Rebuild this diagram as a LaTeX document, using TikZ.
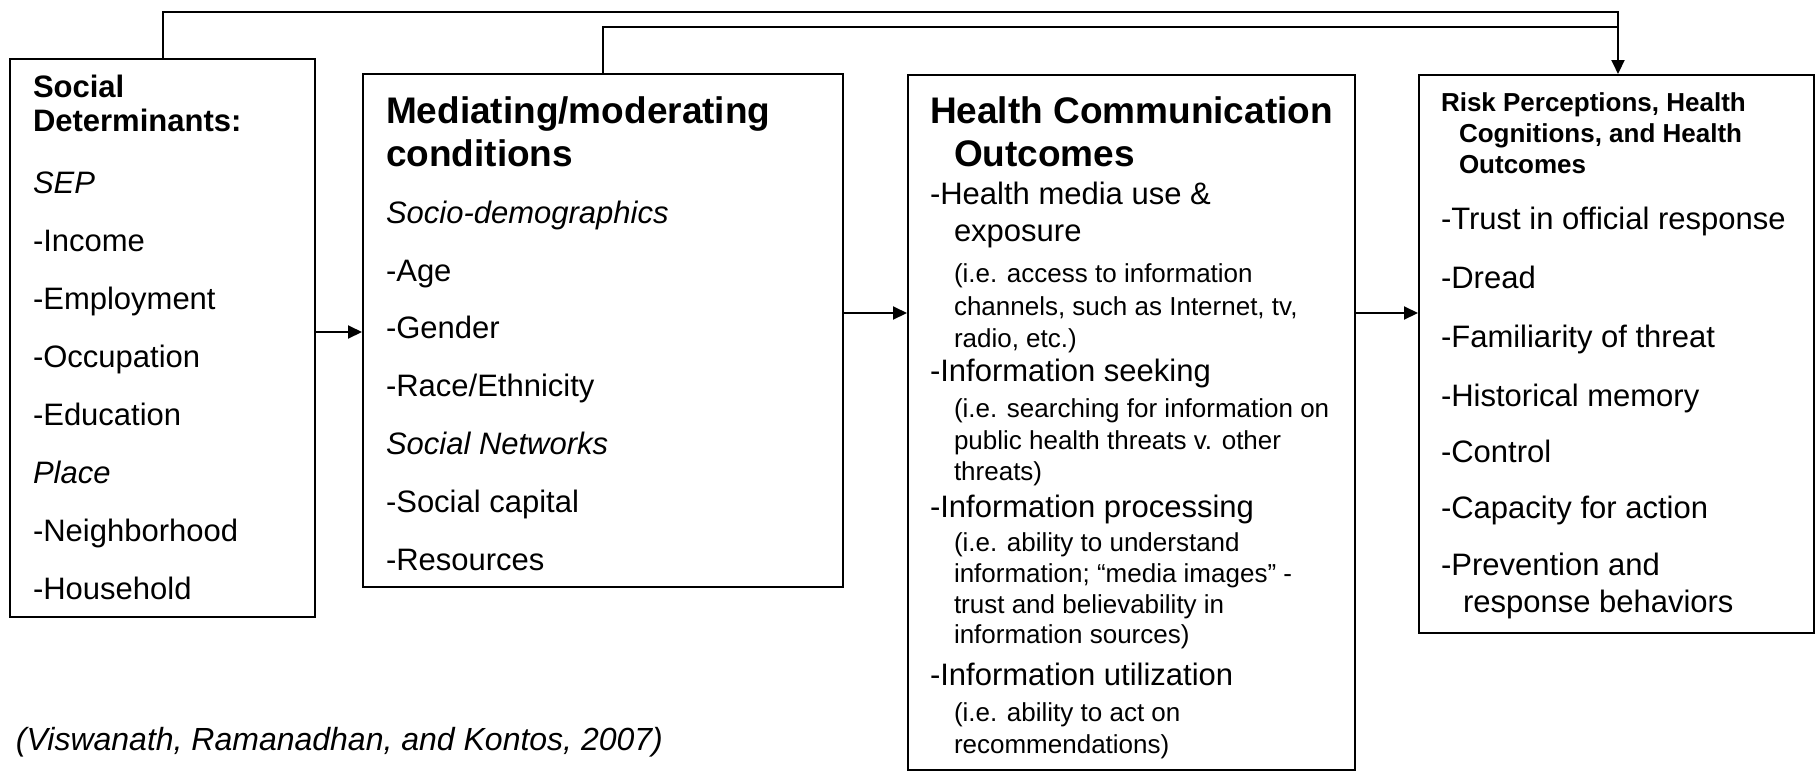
\documentclass[tikz,border=0pt]{standalone}
\usepackage{fontspec}
\setmainfont{Liberation Sans}
\usetikzlibrary{arrows.meta}

\tikzset{every picture/.style={line width=1pt}}
\tikzset{
  box/.style={draw, line width=1pt, inner sep=0pt, anchor=north west},
  arr/.style={-{Triangle[length=7pt,width=6.5pt]}},
  txt/.style={anchor=base west, inner sep=0pt},
  item/.style={txt, font=\fontsize{15.5}{18}\selectfont},
  note/.style={txt, font=\fontsize{13}{15}\selectfont},
  headone/.style={txt, font=\fontsize{15.5}{18}\selectfont\bfseries},
  headbig/.style={txt, font=\fontsize{18.5}{22}\selectfont\bfseries},
  headrisk/.style={txt, font=\fontsize{13}{15}\selectfont\bfseries},
  cite/.style={txt, font=\fontsize{16}{19}\selectfont\itshape}
}

\begin{document}
\begin{tikzpicture}[x=0.5pt,y=0.5pt,yscale=-1,xscale=1]
\useasboundingbox (0,0) rectangle (1815,772);

%Shape: Rectangle [social determinants]
\node [box, minimum width=152.5pt, minimum height=279pt] (sdet) at (9,58) {};
%Shape: Rectangle [mediating conditions]
\node [box, minimum width=240pt, minimum height=256.5pt] (medi) at (362,73) {};
%Shape: Rectangle [communication outcomes]
\node [box, minimum width=223.5pt, minimum height=347.5pt] (hcom) at (907,74) {};
%Shape: Rectangle [risk perceptions]
\node [box, minimum width=197.5pt, minimum height=279pt] (risk) at (1418,74) {};

% turning points of the connectors
\coordinate (a1) at (0,332);
\coordinate (a2) at (0,313);
\coordinate (t1) at (163,12);
\coordinate (t2) at (603,27);
\coordinate (tx) at (1618,0);

%Straight Lines
\draw [arr] (sdet.east |- a1) -- (medi.west |- a1);
\draw [arr] (medi.east |- a2) -- (hcom.west |- a2);
\draw [arr] (hcom.east |- a2) -- (risk.west |- a2);
%Straight Lines [top feedback]
\draw [arr] (sdet.north -| t1) |- (t1 -| tx) -- (risk.north -| tx);
\draw (medi.north -| t2) |- (t2 -| tx);

% Text Node
\node [headone] (sd-h1) at (32,97) {Social};
\node [headone] (sd-h2) at (32,131) {Determinants:};
\node [item] (sd-sep) at (32,193) {\textit{SEP}};
\node [item] (sd-inc) at (32,251) {-Income};
\node [item] (sd-emp) at (32,309) {-Employment};
\node [item] (sd-occ) at (32,367) {-Occupation};
\node [item] (sd-edu) at (32,425) {-Education};
\node [item] (sd-plc) at (32,483) {\textit{Place}};
\node [item] (sd-nbh) at (32,541) {-Neighborhood};
\node [item] (sd-hh) at (32,599) {-Household};

% Text Node
\node [headbig] (md-h1) at (385,123) {Mediating/moderating};
\node [headbig] (md-h2) at (385,166) {conditions};
\node [item] (md-soc) at (385,223) {\textit{Socio-demographics}};
\node [item] (md-age) at (385,281) {-Age};
\node [item] (md-gen) at (385,338) {-Gender};
\node [item] (md-race) at (385,396) {-Race/Ethnicity};
\node [item] (md-net) at (385,454) {\textit{Social Networks}};
\node [item] (md-cap) at (385,512) {-Social capital};
\node [item] (md-res) at (385,570) {-Resources};

% Text Node
\node [headbig] (hc-h1) at (929,123) {Health Communication};
\node [headbig] (hc-h2) at (953,166) {Outcomes};
\node [item] (hc-a1) at (929,204) {-Health media use \&};
\node [item] (hc-a2) at (953,241) {exposure};
\node [note] (hc-a3) at (953,282) {(i.e. access to information};
\node [note] (hc-a4) at (953,315) {channels, such as Internet, tv,};
\node [note] (hc-a5) at (953,347) {radio, etc.)};
\node [item] (hc-b1) at (929,381) {-Information seeking};
\node [note] (hc-b2) at (953,417) {(i.e. searching for information on};
\node [note] (hc-b3) at (953,449) {public health threats v. other};
\node [note] (hc-b4) at (953,480) {threats)};
\node [item] (hc-c1) at (929,517) {-Information processing};
\node [note] (hc-c2) at (953,551) {(i.e. ability to understand};
\node [note] (hc-c3) at (953,582) {information; “media images” -};
\node [note] (hc-c4) at (953,613) {trust and believability in};
\node [note] (hc-c5) at (953,643) {information sources)};
\node [item] (hc-d1) at (929,685) {-Information utilization};
\node [note] (hc-d2) at (953,721) {(i.e. ability to act on};
\node [note] (hc-d3) at (953,753) {recommendations)};

% Text Node
\node [headrisk] (rk-h1) at (1440,111) {Risk Perceptions, Health};
\node [headrisk] (rk-h2) at (1458,142) {Cognitions, and Health};
\node [headrisk] (rk-h3) at (1458,173) {Outcomes};
\node [item] (rk-tr) at (1440,229) {-Trust in official response};
\node [item] (rk-dr) at (1440,288) {-Dread};
\node [item] (rk-fam) at (1440,347) {-Familiarity of threat};
\node [item] (rk-his) at (1440,406) {-Historical memory};
\node [item] (rk-con) at (1440,462) {-Control};
\node [item] (rk-cap) at (1440,518) {-Capacity for action};
\node [item] (rk-pre) at (1440,575) {-Prevention and};
\node [item] (rk-pre2) at (1462,612) {response behaviors};

% Text Node
\node [cite] (src) at (15,750) {(Viswanath, Ramanadhan, and Kontos, 2007)};
\end{tikzpicture}
\end{document}
